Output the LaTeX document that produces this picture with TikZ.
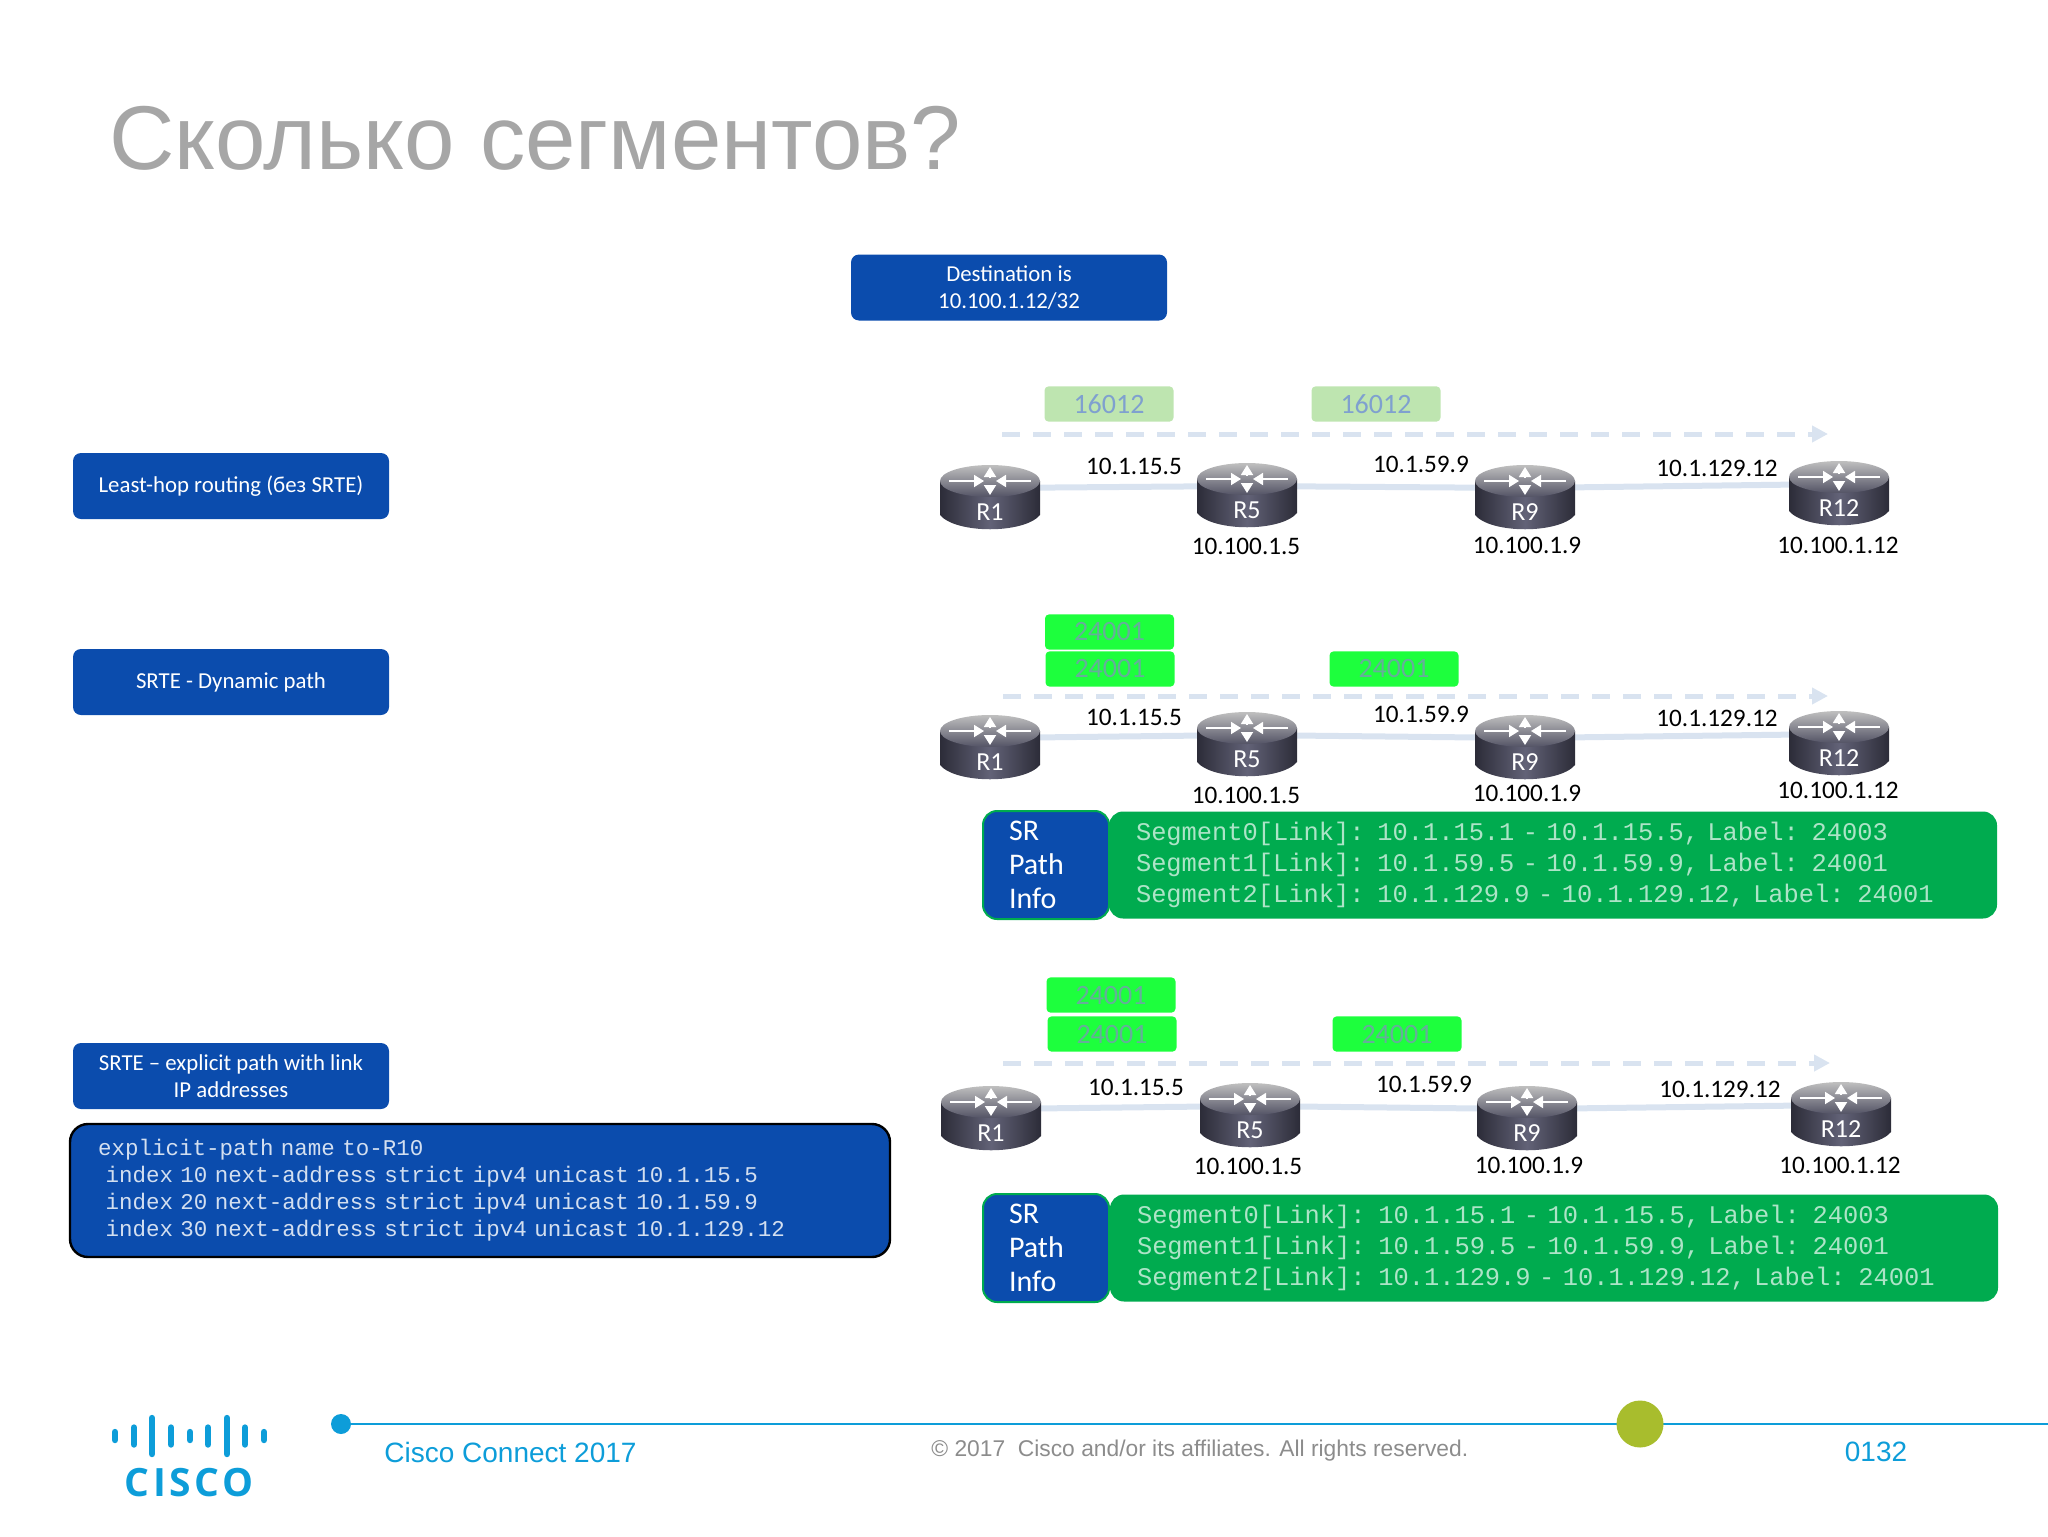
\documentclass[tikz,border=0pt]{standalone}
\usepackage{fontspec}
\setmainfont{Carlito}
\setmonofont[WordSpace=1.7]{Liberation Mono}
\newfontfamily\arialfont{Liberation Sans}
\newfontfamily\logofont[LetterSpace=9]{Open Sans}
\usetikzlibrary{arrows.meta,backgrounds}
\definecolor{boxblue}{HTML}{0B4CAD}
\definecolor{boxgreen}{HTML}{00AB4F}
\definecolor{paleblue}{HTML}{D9E3F0}
\definecolor{palegreen}{HTML}{BEE5B0}
\definecolor{limegreen}{HTML}{1DFF3D}
\definecolor{ciscoblue}{HTML}{0D9DD9}
\definecolor{routerdark}{HTML}{2C2C38}
\definecolor{routermid}{HTML}{626277}
\definecolor{oldtext}{HTML}{7FA0CF}
\definecolor{newtext}{HTML}{66AE9A}
\definecolor{markergreen}{HTML}{A8BD2D}
\tikzset{%
  tipA/.tip={Triangle[length=5pt,width=6pt]},
  tipB/.tip={Triangle[length=8pt,width=8pt]},
  bluebox/.style={fill=boxblue,rounded corners=4pt,text=white,align=center,
    minimum width=158pt,minimum height=33pt,inner sep=0pt,
    font=\fontsize{11.4}{13.4}\selectfont},
  codebox/.style={fill=boxblue,draw=black,line width=1.2pt,rounded corners=9pt,text=white!82!boxblue,
    align=left,text width=382pt,inner xsep=14pt,inner ysep=0pt,minimum height=66.5pt,
    font=\ttfamily\fontsize{11.25}{13.55}\selectfont},
  srbox/.style={fill=boxblue,draw=boxgreen,line width=1pt,rounded corners=7pt,text=white,
    align=left,text width=37pt,inner xsep=13pt,inner ysep=0pt,minimum height=54pt,
    font=\fontsize{15}{17}\selectfont},
  segbox/.style={fill=boxgreen,rounded corners=7pt,text=white!68!boxgreen,
    align=left,text width=417pt,inner xsep=13.5pt,inner ysep=0pt,minimum height=53.5pt,
    font=\ttfamily\fontsize{12.7}{15.5}\selectfont},
  oldlabel/.style={fill=palegreen,rounded corners=2pt,text=oldtext,
    minimum width=64.5pt,minimum height=17.6pt,inner sep=0pt,font=\fontsize{14}{14}\selectfont},
  newlabel/.style={oldlabel,fill=limegreen,text=newtext},
  addr/.style={inner sep=0pt,font=\fontsize{12.6}{13}\selectfont},
  rname/.style={inner sep=0pt,text=white,font=\fontsize{13}{13}\selectfont},
  linkline/.style={paleblue,line width=3pt},
  pathline/.style={paleblue,line width=2.5pt,dash pattern=on 9pt off 6.5pt,-tipB},
  rarrow/.style={white,line width=.9pt,-tipA},
  footer/.style={inner sep=0pt,text=ciscoblue,font=\arialfont\fontsize{14}{14}\selectfont},
}
\newcommand{\routerat}[4]{%
\begin{scope}[shift={(#2,#3)}]
\shade[left color=routerdark,right color=routerdark,middle color=routermid]
  (-50,-16) -- (-50,18) .. controls (-34,37) and (34,37) .. (50,18) -- (50,-16) -- cycle;
\shade[top color=black!25,bottom color=routermid!85!black] (0,-16) ellipse (50 and 16);
\draw[rarrow] (-41,-16) -- (-6,-16);
\draw[rarrow] (41,-16) -- (6,-16);
\draw[rarrow] (0,-20) -- (0,-30);
\draw[rarrow] (0,-12) -- (0,-2);
\node[rname] (#1name) at (0,15) {#4};
\coordinate (#1) at (0,-9);
\end{scope}}
\newcommand{\segtext}{Segment0[Link]: 10.1.15.1 - 10.1.15.5, Label: 24003\\
Segment1[Link]: 10.1.59.5 - 10.1.59.9, Label: 24001\\
Segment2[Link]: 10.1.129.9 - 10.1.129.12, Label: 24001}
\begin{document}
\begin{tikzpicture}[x=.5pt,y=-.5pt]
\useasboundingbox (0,0) rectangle (2048,1536);
\node[inner sep=0pt,anchor=west,text=black!35,font=\arialfont\fontsize{45.3}{46}\selectfont] (title) at (109,138) {Сколько сегментов?};
% left column
\node[bluebox] (dest) at (1009,287.5) {Destination is\\10.100.1.12/32};
\node[bluebox] (leasthop) at (231,486) {Least-hop routing (без SRTE)};
\node[bluebox] (dynamic) at (231,682) {SRTE - Dynamic path};
\node[bluebox] (explicit) at (231,1076) {SRTE – explicit path with link\\IP addresses};
\node[codebox] (code) at (480,1190.5) {explicit-path name to-R10\\
\ index 10 next-address strict ipv4 unicast 10.1.15.5\\
\ index 20 next-address strict ipv4 unicast 10.1.59.9\\
\ index 30 next-address strict ipv4 unicast 10.1.129.12};
% first row
\routerat{r1a}{990}{497}{R1}
\routerat{r5a}{1247}{495}{R5}
\routerat{r9a}{1525}{497}{R9}
\routerat{r12a}{1839}{493}{R12}
\node[oldlabel] (la1) at (1109,404) {16012};
\node[oldlabel] (la2) at (1376,404) {16012};
\coordinate (pa1) at (1002,434);
\coordinate (pa2) at (1828,434);
\node[addr] (ipa1) at (1134,466) {10.1.15.5};
\node[addr] (ipa2) at (1421,464) {10.1.59.9};
\node[addr] (ipa3) at (1717,468) {10.1.129.12};
\node[addr] (lba1) at (1246,546) {10.100.1.5};
\node[addr] (lba2) at (1527,545) {10.100.1.9};
\node[addr] (lba3) at (1838,545) {10.100.1.12};
% second row
\routerat{r1b}{990}{747}{R1}
\routerat{r5b}{1247}{744}{R5}
\routerat{r9b}{1525}{747}{R9}
\routerat{r12b}{1839}{743}{R12}
\node[newlabel] (lb1) at (1109.5,632) {24001};
\node[newlabel] (lb2) at (1110,669) {24001};
\node[newlabel] (lb3) at (1394,669) {24001};
\coordinate (pb1) at (1003,696);
\coordinate (pb2) at (1828,696);
\node[addr] (ipb1) at (1134,717) {10.1.15.5};
\node[addr] (ipb2) at (1421,714) {10.1.59.9};
\node[addr] (ipb3) at (1717,718) {10.1.129.12};
\node[addr] (lbb1) at (1246,795) {10.100.1.5};
\node[addr] (lbb2) at (1527,793) {10.100.1.9};
\node[addr] (lbb3) at (1838,790) {10.100.1.12};
\node[srbox] (srb) at (1046,865) {SR\\Path\\Info};
\node[segbox] (segb) at (1553,865) {\segtext};
% third row
\routerat{r1c}{991}{1118}{R1}
\routerat{r5c}{1250}{1115}{R5}
\routerat{r9c}{1527}{1118}{R9}
\routerat{r12c}{1841}{1114}{R12}
\node[newlabel] (lc1) at (1111,995) {24001};
\node[newlabel] (lc2) at (1112,1034) {24001};
\node[newlabel] (lc3) at (1397,1034) {24001};
\coordinate (pc1) at (1003,1063);
\coordinate (pc2) at (1830,1063);
\node[addr] (ipc1) at (1136,1087) {10.1.15.5};
\node[addr] (ipc2) at (1424,1084) {10.1.59.9};
\node[addr] (ipc3) at (1720,1089) {10.1.129.12};
\node[addr] (lbc1) at (1248,1166) {10.100.1.5};
\node[addr] (lbc2) at (1529,1165) {10.100.1.9};
\node[addr] (lbc3) at (1840,1165) {10.100.1.12};
\node[srbox] (src) at (1046,1248) {SR\\Path\\Info};
\node[segbox] (segc) at (1554,1248) {\segtext};
% links go under the routers
\begin{scope}[on background layer]
\foreach \r in {a,b,c} {
\draw[linkline] (r1\r) -- (r5\r);
\draw[linkline] (r5\r) -- (r9\r);
\draw[linkline] (r9\r) -- (r12\r);
\draw[pathline] (p\r1) -- (p\r2);
}
\end{scope}
% footer
\coordinate (lineend) at (2048,1424);
\node[circle,fill=ciscoblue,minimum size=10pt,inner sep=0pt] (startdot) at (341,1424) {};
\node[circle,fill=markergreen,minimum size=23.5pt,inner sep=0pt] (marker) at (1640,1424) {};
\begin{scope}[on background layer]
\draw[ciscoblue,line width=1.4pt] (startdot) -- (lineend);
\end{scope}
\node[footer,anchor=west] (event) at (384,1452) {Cisco Connect 2017};
\node[footer,anchor=west,text=black!45,font=\arialfont\fontsize{11.4}{11.4}\selectfont] (copy) at (931,1450.5) {© 2017\ \ Cisco and/or its affiliates. All rights reserved.};
\node[footer] (pagenum) at (1876,1452) {0132};
\foreach \x/\h in {115/14,134/23,152/42,171/23,190/14,208/23,227/42,245/23,264/14}
  \draw[ciscoblue,line width=3.2pt,line cap=round] (\x,1436-\h/2+3) -- (\x,1436+\h/2-3);
\node[inner sep=0pt,text=ciscoblue,font=\logofont\bfseries\fontsize{19.5}{20}\selectfont] (logo) at (189,1483) {CISCO};
\end{tikzpicture}
\end{document}
